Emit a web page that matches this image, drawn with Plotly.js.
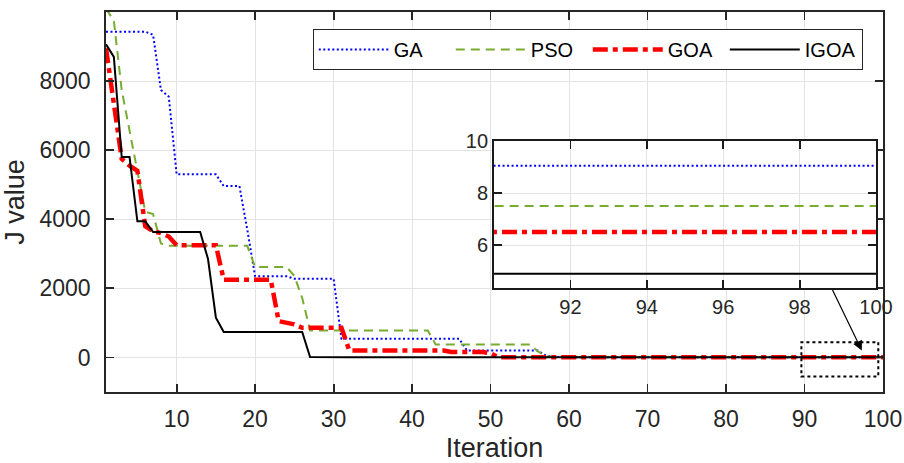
<!DOCTYPE html>
<html>
<head>
<meta charset="utf-8">
<script src="https://cdn.plot.ly/plotly-3.0.1.min.js"></script>
<style>
  html, body { margin: 0; padding: 0; background: #ffffff; }
  #chart { width: 904px; height: 463px; }
</style>
</head>
<body>
<div id="chart"></div>
<script>
// ---- data ----
const iterations = [1,2,3,4,5,6,7,8,9,10,11,12,13,14,15,16,17,18,19,20,21,22,23,24,25,26,27,28,29,30,31,32,33,34,35,36,37,38,39,40,41,42,43,44,45,46,47,48,49,50,51,52,53,54,55,56,57,58,59,60,61,62,63,64,65,66,67,68,69,70,71,72,73,74,75,76,77,78,79,80,81,82,83,84,85,86,87,88,89,90,91,92,93,94,95,96,97,98,99,100];

const gaValues = [9430,9430,9430,9430,9430,9430,9340,7740,7550,5300,
  5300,5300,5300,5300,5300,4960,4960,4960,3700,2350,
  2350,2350,2350,2350,2280,2280,2280,2280,2280,2280,
  540,540,540,540,540,540,540,540,540,540,
  540,540,540,540,540,540,200,200,200,200,
  200,200,200,200,200,200,58,20,9.05,9.05,
  9.05,9.05,9.05,9.05,9.05,9.05,9.05,9.05,9.05,9.05,
  9.05,9.05,9.05,9.05,9.05,9.05,9.05,9.05,9.05,9.05,
  9.05,9.05,9.05,9.05,9.05,9.05,9.05,9.05,9.05,9.05,
  9.05,9.05,9.05,9.05,9.05,9.05,9.05,9.05,9.05,9.05];

const psoValues = [10100,9750,7740,6550,5450,4220,4150,3300,3230,3230,
  3230,3230,3230,3230,3230,3230,3230,3230,3230,2620,
  2620,2620,2620,2620,2360,1720,783,783,783,783,
  783,783,783,783,783,783,783,783,783,783,
  783,783,377,377,377,377,377,377,377,377,
  377,377,377,377,377,180,40,7.5,7.5,7.5,
  7.5,7.5,7.5,7.5,7.5,7.5,7.5,7.5,7.5,7.5,
  7.5,7.5,7.5,7.5,7.5,7.5,7.5,7.5,7.5,7.5,
  7.5,7.5,7.5,7.5,7.5,7.5,7.5,7.5,7.5,7.5,
  7.5,7.5,7.5,7.5,7.5,7.5,7.5,7.5,7.5,7.5];

const goaValues = [8950,7450,5750,5550,5400,3800,3650,3600,3500,3250,
  3250,3250,3250,3250,3250,2250,2250,2250,2250,2250,
  2250,2250,1050,1000,960,860,860,860,860,860,
  860,200,200,200,200,200,200,200,200,200,
  200,200,200,200,160,160,160,160,160,120,
  6.5,6.5,6.5,6.5,6.5,6.5,6.5,6.5,6.5,6.5,
  6.5,6.5,6.5,6.5,6.5,6.5,6.5,6.5,6.5,6.5,
  6.5,6.5,6.5,6.5,6.5,6.5,6.5,6.5,6.5,6.5,
  6.5,6.5,6.5,6.5,6.5,6.5,6.5,6.5,6.5,6.5,
  6.5,6.5,6.5,6.5,6.5,6.5,6.5,6.5,6.5,6.5];

const igoaValues = [9065,8700,5800,5800,3940,3940,3630,3630,3630,3630,
  3630,3630,3630,2850,1150,735,735,735,735,735,
  735,735,735,735,735,735,10,4.9,4.9,4.9,
  4.9,4.9,4.9,4.9,4.9,4.9,4.9,4.9,4.9,4.9,
  4.9,4.9,4.9,4.9,4.9,4.9,4.9,4.9,4.9,4.9,
  4.9,4.9,4.9,4.9,4.9,4.9,4.9,4.9,4.9,4.9,
  4.9,4.9,4.9,4.9,4.9,4.9,4.9,4.9,4.9,4.9,
  4.9,4.9,4.9,4.9,4.9,4.9,4.9,4.9,4.9,4.9,
  4.9,4.9,4.9,4.9,4.9,4.9,4.9,4.9,4.9,4.9,
  4.9,4.9,4.9,4.9,4.9,4.9,4.9,4.9,4.9,4.9];

const seriesNames = ['GA', 'PSO', 'GOA', 'IGOA'];
const xTickVals = [10,20,30,40,50,60,70,80,90,100];
const yTickVals = [0,2000,4000,6000,8000];
const insetXTickVals = [92,94,96,98,100];
const insetYTickVals = [6,8,10];

// ---- styles ----
const styles = [
  {color: '#0000ff', width: 2, dash: '2px,2.5px'},
  {color: '#77ac30', width: 2, dash: '9px,6px'},
  {color: '#ff0000', width: 4.5, dash: '15px,5px,5px,5px'},
  {color: '#000000', width: 2, dash: 'solid'}
];
const valueSets = [gaValues, psoValues, goaValues, igoaValues];

const FONT = 'Liberation Sans, Arial, Helvetica, sans-serif';
const traces = [];
valueSets.forEach((vals, i) => {
  traces.push({
    x: iterations, y: vals, name: seriesNames[i], type: 'scatter', mode: 'lines',
    line: {color: styles[i].color, width: styles[i].width, dash: styles[i].dash},
    xaxis: 'x', yaxis: 'y', showlegend: true
  });
});
valueSets.forEach((vals, i) => {
  traces.push({
    x: iterations, y: vals, name: seriesNames[i], type: 'scatter', mode: 'lines',
    line: {color: styles[i].color, width: styles[i].width, dash: styles[i].dash},
    xaxis: 'x2', yaxis: 'y2', showlegend: false
  });
});

const axisCommon = {
  showline: true, linecolor: '#262626', linewidth: 1.8, mirror: 'ticks',
  ticks: 'inside', ticklen: 8, tickwidth: 1.8, tickcolor: '#262626',
  showgrid: true, gridcolor: '#e3e3e3', gridwidth: 1, zeroline: false,
  tickfont: {family: FONT, size: 23, color: '#262626'}
};

const layout = {
  width: 904, height: 463,
  margin: {l: 106, r: 21, t: 12, b: 71, pad: 0},
  paper_bgcolor: '#ffffff', plot_bgcolor: '#ffffff',
  font: {family: FONT, color: '#262626'},
  xaxis: Object.assign({}, axisCommon, {
    domain: [0, 1], range: [1, 100], tickvals: xTickVals, anchor: 'y',
    ticklabelstandoff: 6,
    title: {text: 'Iteration', font: {family: FONT, size: 27, color: '#262626'}, standoff: 10}
  }),
  yaxis: Object.assign({}, axisCommon, {
    domain: [0, 1], range: [-1000, 10000], tickvals: yTickVals, anchor: 'x',
    ticklabelstandoff: 9, automargin: true,
    title: {text: 'J value', font: {family: FONT, size: 27, color: '#262626'}, standoff: 8}
  }),
  xaxis2: Object.assign({}, axisCommon, {
    domain: [0.4994, 0.991], range: [90, 100], tickvals: insetXTickVals, anchor: 'y2',
    linecolor: '#1a1a1a', linewidth: 2, tickcolor: '#1a1a1a',
    tickfont: {family: FONT, size: 20, color: '#262626'}
  }),
  yaxis2: Object.assign({}, axisCommon, {
    domain: [0.2737, 0.6605], range: [4.35, 10], tickvals: insetYTickVals, anchor: 'x2',
    linecolor: '#1a1a1a', linewidth: 2, tickcolor: '#1a1a1a',
    tickfont: {family: FONT, size: 20, color: '#262626'}
  }),
  showlegend: true,
  legend: {
    orientation: 'h', x: 0.974, xanchor: 'right', y: 0.955, yanchor: 'top',
    bgcolor: '#ffffff', bordercolor: '#262626', borderwidth: 1,
    font: {family: FONT, size: 20, color: '#000000'},
    itemwidth: 70, entrywidth: 52, entrywidthmode: 'pixels', tracegroupgap: 0
  },
  shapes: [
    {type: 'rect', xref: 'x', yref: 'y', x0: 89.6, x1: 99.4, y0: -550, y1: 440,
     line: {color: '#000000', width: 2, dash: 'dot'}, fillcolor: 'rgba(0,0,0,0)', layer: 'above'}
  ],
  annotations: [
    {xref: 'x', yref: 'y', x: 97.3, y: 203, axref: 'pixel', ayref: 'pixel', ax: -30, ay: -62,
     showarrow: true, arrowhead: 2, arrowsize: 1.6, arrowwidth: 1.2, arrowcolor: '#000000', text: ''}
  ]
};

Plotly.newPlot('chart', traces, layout, {displayModeBar: false, staticPlot: true});
</script>
</body>
</html>
